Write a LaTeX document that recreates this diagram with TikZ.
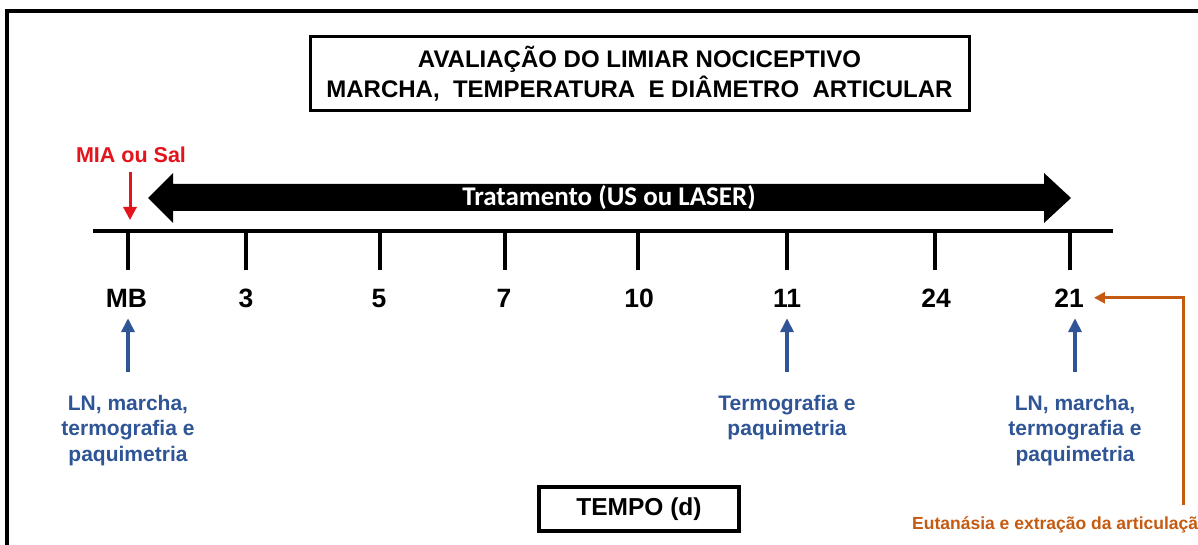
\documentclass[tikz,border=0pt]{standalone}
\usepackage{fontspec}
\setmainfont{Liberation Sans}
\newfontfamily\carlitofont{Carlito}
\usetikzlibrary{arrows.meta}
\definecolor{mired}{HTML}{E3141C}
\definecolor{miblue}{HTML}{2F5597}
\definecolor{miorange}{HTML}{C55A11}
\newcommand{\myfs}[1]{\fontsize{#1}{#1}\selectfont}
\begin{document}
\begin{tikzpicture}[x=1pt,y=-1pt,
  frameline/.style={line width=4pt},
  boxnode/.style={draw, line width=3pt, inner sep=0pt, align=center},
  numlabel/.style={anchor=base, inner sep=0pt, font=\bfseries\myfs{26.5}},
  tickline/.style={line width=3.5pt},
  bluetext/.style={anchor=north, inner sep=0pt, align=center, text=miblue,
    font=\bfseries\fontsize{21}{25.5}\selectfont},
  bluearrow/.style={draw=miblue, line width=3.5pt, -{Triangle[width=13pt,length=14pt]}},
  redarrow/.style={draw=mired, line width=3pt, -{Triangle[width=13pt,length=13pt]}},
  orangearrow/.style={draw=miorange, line width=3pt, -{Triangle[width=11pt,length=11pt]}},
]
\useasboundingbox (0,0) rectangle (1198,545);
\clip (0,0) rectangle (1198,545);
\fill[white] (0,0) rectangle (1198,545);

% outer frame
\draw[frameline] (7,560) -- (7,11) -- (1220,11);

% title
\node[boxnode, minimum width=659pt, minimum height=74pt,
  font=\bfseries\fontsize{24}{30}\selectfont] (title) at (639.5,74)
  {AVALIAÇÃO DO LIMIAR NOCICEPTIVO\\MARCHA,\ \ TEMPERATURA\ \ E DIÂMETRO\ \ ARTICULAR};

% treatment double arrow
\fill (148,198) -- (173,173) -- (173,184) -- (1044,184) -- (1044,173) -- (1071,198)
  -- (1044,223) -- (1044,211) -- (173,211) -- (173,223) -- cycle;
\node[inner sep=0pt, text=white, font=\carlitofont\bfseries\myfs{27}] (trat) at (609,197.5)
  {Tratamento (US ou LASER)};

% timeline
\coordinate (tlA) at (93,231);
\coordinate (tlB) at (1113,231);
\draw[tickline] (tlA) -- (tlB);
\foreach \x/\n in {128/0,246/1,380/2,505/3,638/4,787/5,935/6,1070/7}{
  \coordinate (tk\n) at (\x,231);
  \draw[tickline] (tk\n) -- (\x,270);
}

% day labels
\node[numlabel] (nMB) at (126.5,307) {MB};
\node[numlabel] (n3)  at (246,307) {3};
\node[numlabel] (n5)  at (379,307) {5};
\node[numlabel] (n7)  at (504,307) {7};
\node[numlabel] (n10) at (639,307) {10};
\node[numlabel] (n11) at (787,307) {11};
\node[numlabel] (n24) at (936,307) {24};
\node[numlabel] (n21) at (1069,307) {21};

% MIA ou Sal
\node[anchor=base, inner sep=0pt, text=mired, font=\bfseries\myfs{21.5}] (mia) at (131,163) {MIA ou Sal};
\draw[redarrow, shorten <=9pt, shorten >=11pt] ([xshift=-1pt]mia.south) -- ([xshift=-1pt]mia.south |- tk0);

% blue labels and arrows
\node[bluetext] (evA) at (128,395) {LN, marcha,\\termografia e\\paquimetria};
\node[bluetext] (evB) at (787,395) {Termografia e\\paquimetria};
\node[bluetext] (evC) at (1075,395) {LN, marcha,\\termografia e\\paquimetria};
\draw[bluearrow, shorten <=23pt, shorten >=11pt] (evA.north) -- (evA.north |- nMB.south);
\draw[bluearrow, shorten <=23pt, shorten >=11pt] (evB.north) -- (evB.north |- n11.south);
\draw[bluearrow, shorten <=23pt, shorten >=11pt] (evC.north) -- (evC.north |- n21.south);

% time box
\node[boxnode, line width=3.3pt, minimum width=200pt, minimum height=44pt,
  font=\bfseries\myfs{24.5}] (tempo) at (639,509) {TEMPO (d)};

% euthanasia
\node[anchor=base west, inner sep=0pt, text=miorange, font=\bfseries\myfs{17.5}] (eut) at (912,529)
  {Eutanásia e extração da articulação};
\coordinate (eutTop) at (1183,505);
\draw[orangearrow, shorten >=10pt] (eutTop) |- (n21.east);
\end{tikzpicture}
\end{document}
